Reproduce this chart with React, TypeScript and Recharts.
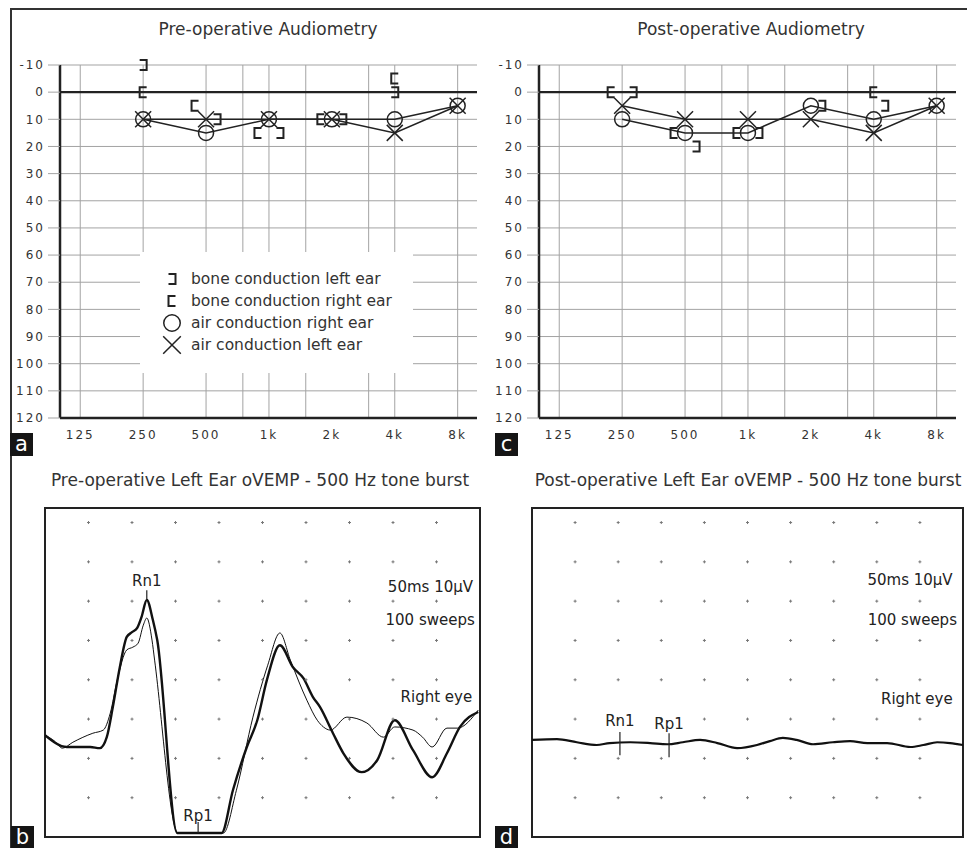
import React from "react";
import {
  ScatterChart,
  ComposedChart,
  Scatter,
  Line,
  XAxis,
  YAxis,
  CartesianGrid,
  ReferenceLine,
  ReferenceArea,
  ReferenceDot,
  Legend,
} from "recharts";

const FONT = '"DejaVu Sans", Verdana, sans-serif';
const INK = "#222";
const GRID = "#a3a3a3";

// audiogram axes
const freqs = [250, 500, 1000, 2000, 4000, 8000];
const freqTicks = [125, 250, 500, 1000, 2000, 4000, 8000];
const freqGridLines = [125, 250, 500, 750, 1000, 1500, 3000, 4000, 8000];
const levelTicks = [-10, 0, 10, 20, 30, 40, 50, 60, 70, 80, 90, 100, 110, 120];

// pre-operative thresholds (dB HL), one per frequency
const preAirRight = [10, 15, 10, 10, 10, 5];
const preAirLeft = [10, 10, 10, 10, 15, 5];
const preBoneRight = [0, 5, 15, 10, -5, null];
const preBoneLeft = [-10, 10, 15, 10, 0, null];

// post-operative thresholds (dB HL)
const postAirRight = [10, 15, 15, 5, 10, 5];
const postAirLeft = [5, 10, 10, 10, 15, 5];
const postBoneRight = [0, 15, 15, null, 0, null];
const postBoneLeft = [0, 20, 15, 5, 5, null];

const legendKinds = ["bcL", "bcR", "acR", "acL"];
const legendLabels = [
  "bone conduction left ear",
  "bone conduction right ear",
  "air conduction right ear",
  "air conduction left ear",
];

// oVEMP traces: [time ms, amplitude µV]
const preTraceThick: [number, number][] = [
  [0, -4.1], [2.5, -7.1], [5.2, -7.1], [6.3, -7.4], [7.1, -4.6], [7.8, 3.1],
  [8.6, 13.2], [9.4, 20.9], [10.0, 22.1], [10.6, 23.2], [11.1, 26], [11.7, 30.3],
  [12.4, 25.2], [12.9, 20.1], [15.2, -29], [20.3, -29], [21.6, -18.1], [23.2, -7.1],
  [24.4, -0.3], [25.5, 9.9], [27.0, 18.8], [28.5, 13.2], [29.7, 10.4], [30.8, 5.6],
  [31.6, 3.1], [33.1, -3.6], [34.3, -8.7], [36.4, -13.5], [38.2, -10.4], [40.2, -0.3],
  [42.3, -7.9], [44.5, -14.8], [46.2, -8.7], [47.7, -2], [49.8, 1.8],
];
const preTraceThin: [number, number][] = [
  [0, -4.1], [1.1, -5.6], [2.0, -7.4], [3.2, -5.9], [5.5, -3.6], [6.7, -2.8],
  [7.5, 1.5], [8.3, 9.9], [9.4, 17.6], [10.1, 18.3], [10.7, 19.3], [11.3, 23.9],
  [11.7, 25.7], [12.3, 20.1], [12.6, 15], [15.3, -29], [20.5, -29], [22.0, -18.1],
  [23.9, 0.5], [25.6, 13.7], [27.0, 21.9], [28.2, 15], [30.1, 4.8], [31.3, -0.3],
  [32.0, -2], [32.8, -2.8], [34.7, 0.5], [37.0, -1], [38.9, -4.6], [40.2, -2],
  [42.3, -2.8], [43.4, -4.6], [44.5, -7.1], [46.2, -2.3], [47.4, -2.3], [49.8, 2.3],
];
const postTrace: [number, number][] = [
  [0, -5.3], [2.9, -5.1], [5.2, -5.9], [7.5, -6.6], [9.0, -6.1], [11.4, -5.9],
  [13.7, -6.1], [15.7, -6.4], [17.5, -5.9], [19.5, -5.3], [21.5, -6.1], [23.8, -7.4],
  [26.1, -6.6], [27.6, -5.6], [29.1, -4.8], [30.7, -5.3], [32.6, -6.4], [34.9, -5.9],
  [36.9, -5.6], [38.9, -6.1], [41.2, -6.1], [43.9, -7.1], [45.4, -6.6], [47.0, -5.9],
  [48.5, -6.1], [50, -6.6],
];

// dotted grid of the recording window
const dotTimes = [5, 10, 15, 20, 25, 30, 35, 40, 45];
const dotLevels = [-20, -10, 0, 10, 20, 30, 40, 50];

const fmtFreq = (f: number) => (f >= 1000 ? `${f / 1000}k` : String(f));

function Mark({ kind, x, y, s = 1 }: { kind: string; x: number; y: number; s?: number }) {
  if (x == null || y == null) return <g />;
  if (kind === "acR")
    return <circle cx={x} cy={y} r={7.5 * s} fill="none" stroke={INK} strokeWidth={1.5} />;
  if (kind === "acL") {
    const h = 8 * s;
    return (
      <path
        d={`M${x - h},${y - h}L${x + h},${y + h}M${x + h},${y - h}L${x - h},${y + h}`}
        stroke={INK}
        strokeWidth={1.5}
      />
    );
  }
  const w = 3.5;
  const h = 5;
  const d =
    kind === "bcR"
      ? `M${x + w},${y - h}H${x - w}V${y + h}H${x + w}`
      : `M${x - w},${y - h}H${x + w}V${y + h}H${x - w}`;
  return <path d={d} fill="none" stroke={INK} strokeWidth={2} />;
}

function LegendBox() {
  return (
    <div
      style={{
        width: 273,
        height: 121,
        background: "#fff",
        boxSizing: "border-box",
        paddingTop: 16,
        paddingLeft: 20,
        fontFamily: FONT,
      }}
    >
      {legendLabels.map((label, i) => (
        <div key={label} style={{ display: "flex", alignItems: "center", height: 22 }}>
          <svg width={24} height={22}>
            <Mark kind={legendKinds[i]} x={12} y={11} s={1.1} />
          </svg>
          <span style={{ marginLeft: 7, fontSize: 15.5, color: "#333", whiteSpace: "nowrap" }}>
            {label}
          </span>
        </div>
      ))}
    </div>
  );
}

const tickStyle = { fontSize: 12, fill: "#333", fontFamily: FONT, letterSpacing: 2 };

function Audiogram({ left, width, rightMargin, airR, airL, boneR, boneL, showLegend }: any) {
  const pts = (arr: (number | null)[]) =>
    freqs.flatMap((f, i) => (arr[i] == null ? [] : [{ freq: f, db: arr[i] }]));
  const bonePts = (arr: (number | null)[]) =>
    freqs.flatMap((f, i) => {
      const v = arr[i];
      if (v == null) return [];
      const near = Math.abs(v - airR[i]) <= 5 || Math.abs(v - airL[i]) <= 5;
      return [{ freq: f, db: v, shift: near }];
    });
  return (
    <div style={{ position: "absolute", left, top: 0 }}>
      <ScatterChart
        width={width}
        height={450}
        margin={{ top: 65, right: rightMargin, bottom: 0, left: 0 }}
      >
        <CartesianGrid vertical={false} stroke={GRID} />
        {freqGridLines.map((f) => (
          <ReferenceLine key={f} x={f} stroke={GRID} />
        ))}
        <ReferenceLine y={0} stroke={INK} strokeWidth={2.2} />
        <XAxis
          type="number"
          dataKey="freq"
          scale="log"
          domain={[100, 9900]}
          allowDataOverflow
          ticks={freqTicks}
          interval={0}
          tickFormatter={fmtFreq}
          height={32}
          axisLine={{ stroke: INK, strokeWidth: 2.5 }}
          tickLine={false}
          tickMargin={6}
          tick={tickStyle}
        />
        <YAxis
          type="number"
          dataKey="db"
          reversed
          domain={[-10, 120]}
          ticks={levelTicks}
          interval={0}
          width={60}
          axisLine={{ stroke: INK, strokeWidth: 2.5 }}
          tickLine={{ stroke: GRID }}
          tickSize={12}
          tickMargin={3}
          tick={tickStyle}
        />
        <Scatter
          data={pts(airR)}
          line={{ stroke: INK, strokeWidth: 1.5 }}
          shape={(p: any) => <Mark kind="acR" x={p.cx} y={p.cy} />}
          isAnimationActive={false}
        />
        <Scatter
          data={pts(airL)}
          line={{ stroke: INK, strokeWidth: 1.5 }}
          shape={(p: any) => <Mark kind="acL" x={p.cx} y={p.cy} />}
          isAnimationActive={false}
        />
        <Scatter
          data={bonePts(boneR)}
          shape={(p: any) => (
            <Mark kind="bcR" x={p.cx - (p.payload?.shift ? 11 : 0)} y={p.cy} />
          )}
          isAnimationActive={false}
        />
        <Scatter
          data={bonePts(boneL)}
          shape={(p: any) => (
            <Mark kind="bcL" x={p.cx + (p.payload?.shift ? 11 : 0)} y={p.cy} />
          )}
          isAnimationActive={false}
        />
        {showLegend && (
          <Legend
            layout="vertical"
            align="center"
            verticalAlign="middle"
            wrapperStyle={{ left: 140, top: 252, width: 273, height: 121 }}
            content={() => <LegendBox />}
          />
        )}
      </ScatterChart>
    </div>
  );
}

const toPts = (arr: [number, number][]) => arr.map(([t, v]) => ({ t, v }));
const gridDots = dotTimes.flatMap((t) => dotLevels.map((v) => ({ t, v })));

const noteLabel = (value: string) => ({
  value,
  position: "left" as const,
  offset: 0,
  fontSize: 15,
  fill: INK,
  fontFamily: FONT,
});

function Vemp({ left, width, traces, marks, notes }: any) {
  return (
    <div style={{ position: "absolute", left, top: 506 }}>
      <ComposedChart width={width} height={333} margin={{ top: 2, right: 2, bottom: 2, left: 2 }}>
        <XAxis type="number" dataKey="t" domain={[0, 50]} allowDataOverflow hide />
        <YAxis type="number" dataKey="v" domain={[-30, 53.7]} allowDataOverflow hide />
        <ReferenceArea
          x1={0}
          x2={50}
          y1={-30}
          y2={53.7}
          fill="#fff"
          fillOpacity={0}
          stroke={INK}
          strokeWidth={2}
        />
        <Scatter
          data={gridDots}
          shape={(p: any) => (
            <path
              d={`M${p.cx - 1.5},${p.cy}H${p.cx + 1.5}M${p.cx},${p.cy - 1.5}V${p.cy + 1.5}`}
              stroke="#777"
              strokeWidth={1}
            />
          )}
          isAnimationActive={false}
        />
        {traces.map((tr: any, i: number) => (
          <Line
            key={i}
            data={toPts(tr.points)}
            dataKey="v"
            type="monotone"
            stroke="#111"
            strokeWidth={tr.w}
            dot={false}
            activeDot={false}
            isAnimationActive={false}
          />
        ))}
        {marks.map((m: any) => (
          <ReferenceLine
            key={m.name + "l"}
            segment={[
              { x: m.t, y: m.v0 },
              { x: m.t, y: m.v1 },
            ]}
            stroke={INK}
            strokeWidth={1.2}
          />
        ))}
        {marks.map((m: any) => (
          <ReferenceDot
            key={m.name}
            x={m.t}
            y={m.v1}
            r={0}
            stroke="none"
            fill="none"
            label={{
              value: m.name,
              position: "top",
              offset: m.gap,
              fontSize: 15,
              fill: INK,
              fontFamily: FONT,
            }}
          />
        ))}
        {notes.map((n: any) => (
          <ReferenceDot
            key={n.text}
            x={n.t}
            y={n.v}
            r={0}
            stroke="none"
            fill="none"
            label={noteLabel(n.text)}
          />
        ))}
      </ComposedChart>
    </div>
  );
}

const titleStyle = (cx: number, cy: number, size: number): React.CSSProperties => ({
  position: "absolute",
  left: cx - 300,
  width: 600,
  top: cy - 11,
  height: 22,
  lineHeight: "22px",
  textAlign: "center",
  fontSize: size,
  color: "#333",
  fontFamily: FONT,
  whiteSpace: "nowrap",
});

const tagStyle = (x: number, y: number): React.CSSProperties => ({
  position: "absolute",
  left: x,
  top: y,
  width: 23,
  height: 23,
  lineHeight: "22px",
  background: "#151515",
  color: "#fff",
  fontSize: 21,
  textAlign: "center",
  fontFamily: FONT,
});

export default function App() {
  return (
    <div
      style={{
        position: "absolute",
        left: 0,
        top: 0,
        width: 967,
        height: 848,
        background: "#fff",
        overflow: "hidden",
        fontFamily: FONT,
      }}
    >
      <div style={{ position: "absolute", left: 10, top: 8, width: 957, height: 1.5, background: "#333" }} />
      <div style={{ position: "absolute", left: 10, top: 8, width: 1.5, height: 840, background: "#333" }} />

      <div style={titleStyle(268, 29, 17)}>Pre-operative Audiometry</div>
      <div style={titleStyle(751, 29, 17)}>Post-operative Audiometry</div>

      <Audiogram
        left={0}
        width={490}
        rightMargin={13}
        airR={preAirRight}
        airL={preAirLeft}
        boneR={preBoneRight}
        boneL={preBoneLeft}
        showLegend
      />
      <Audiogram
        left={479}
        width={488}
        rightMargin={11}
        airR={postAirRight}
        airL={postAirLeft}
        boneR={postBoneRight}
        boneL={postBoneLeft}
        showLegend={false}
      />

      <div style={tagStyle(10, 433)}>a</div>
      <div style={tagStyle(495, 433)}>c</div>

      <div style={titleStyle(260, 480, 17)}>Pre-operative Left Ear oVEMP - 500 Hz tone burst</div>
      <div style={titleStyle(748, 480, 17)}>Post-operative Left Ear oVEMP - 500 Hz tone burst</div>

      <Vemp
        left={43}
        width={439}
        traces={[
          { points: preTraceThin, w: 1 },
          { points: preTraceThick, w: 2.4 },
        ]}
        marks={[
          { name: "Rn1", t: 11.7, v0: 30.3, v1: 32.8, gap: 4 },
          { name: "Rp1", t: 17.6, v0: -29, v1: -26.2, gap: 1 },
        ]}
        notes={[
          { text: "50ms 10µV", t: 49.2, v: 33.6 },
          { text: "100 sweeps", t: 49.4, v: 25.2 },
          { text: "Right eye", t: 49.1, v: 5.6 },
        ]}
      />
      <Vemp
        left={530}
        width={435}
        traces={[{ points: postTrace, w: 2.2 }]}
        marks={[
          { name: "Rn1", t: 10.2, v0: -9.2, v1: -3.3, gap: 6 },
          { name: "Rp1", t: 15.9, v0: -9.7, v1: -3.6, gap: 4 },
        ]}
        notes={[
          { text: "50ms 10µV", t: 48.8, v: 35.4 },
          { text: "100 sweeps", t: 49.3, v: 25.2 },
          { text: "Right eye", t: 48.8, v: 5.3 },
        ]}
      />

      <div style={tagStyle(11, 826)}>b</div>
      <div style={tagStyle(495, 826)}>d</div>
    </div>
  );
}
